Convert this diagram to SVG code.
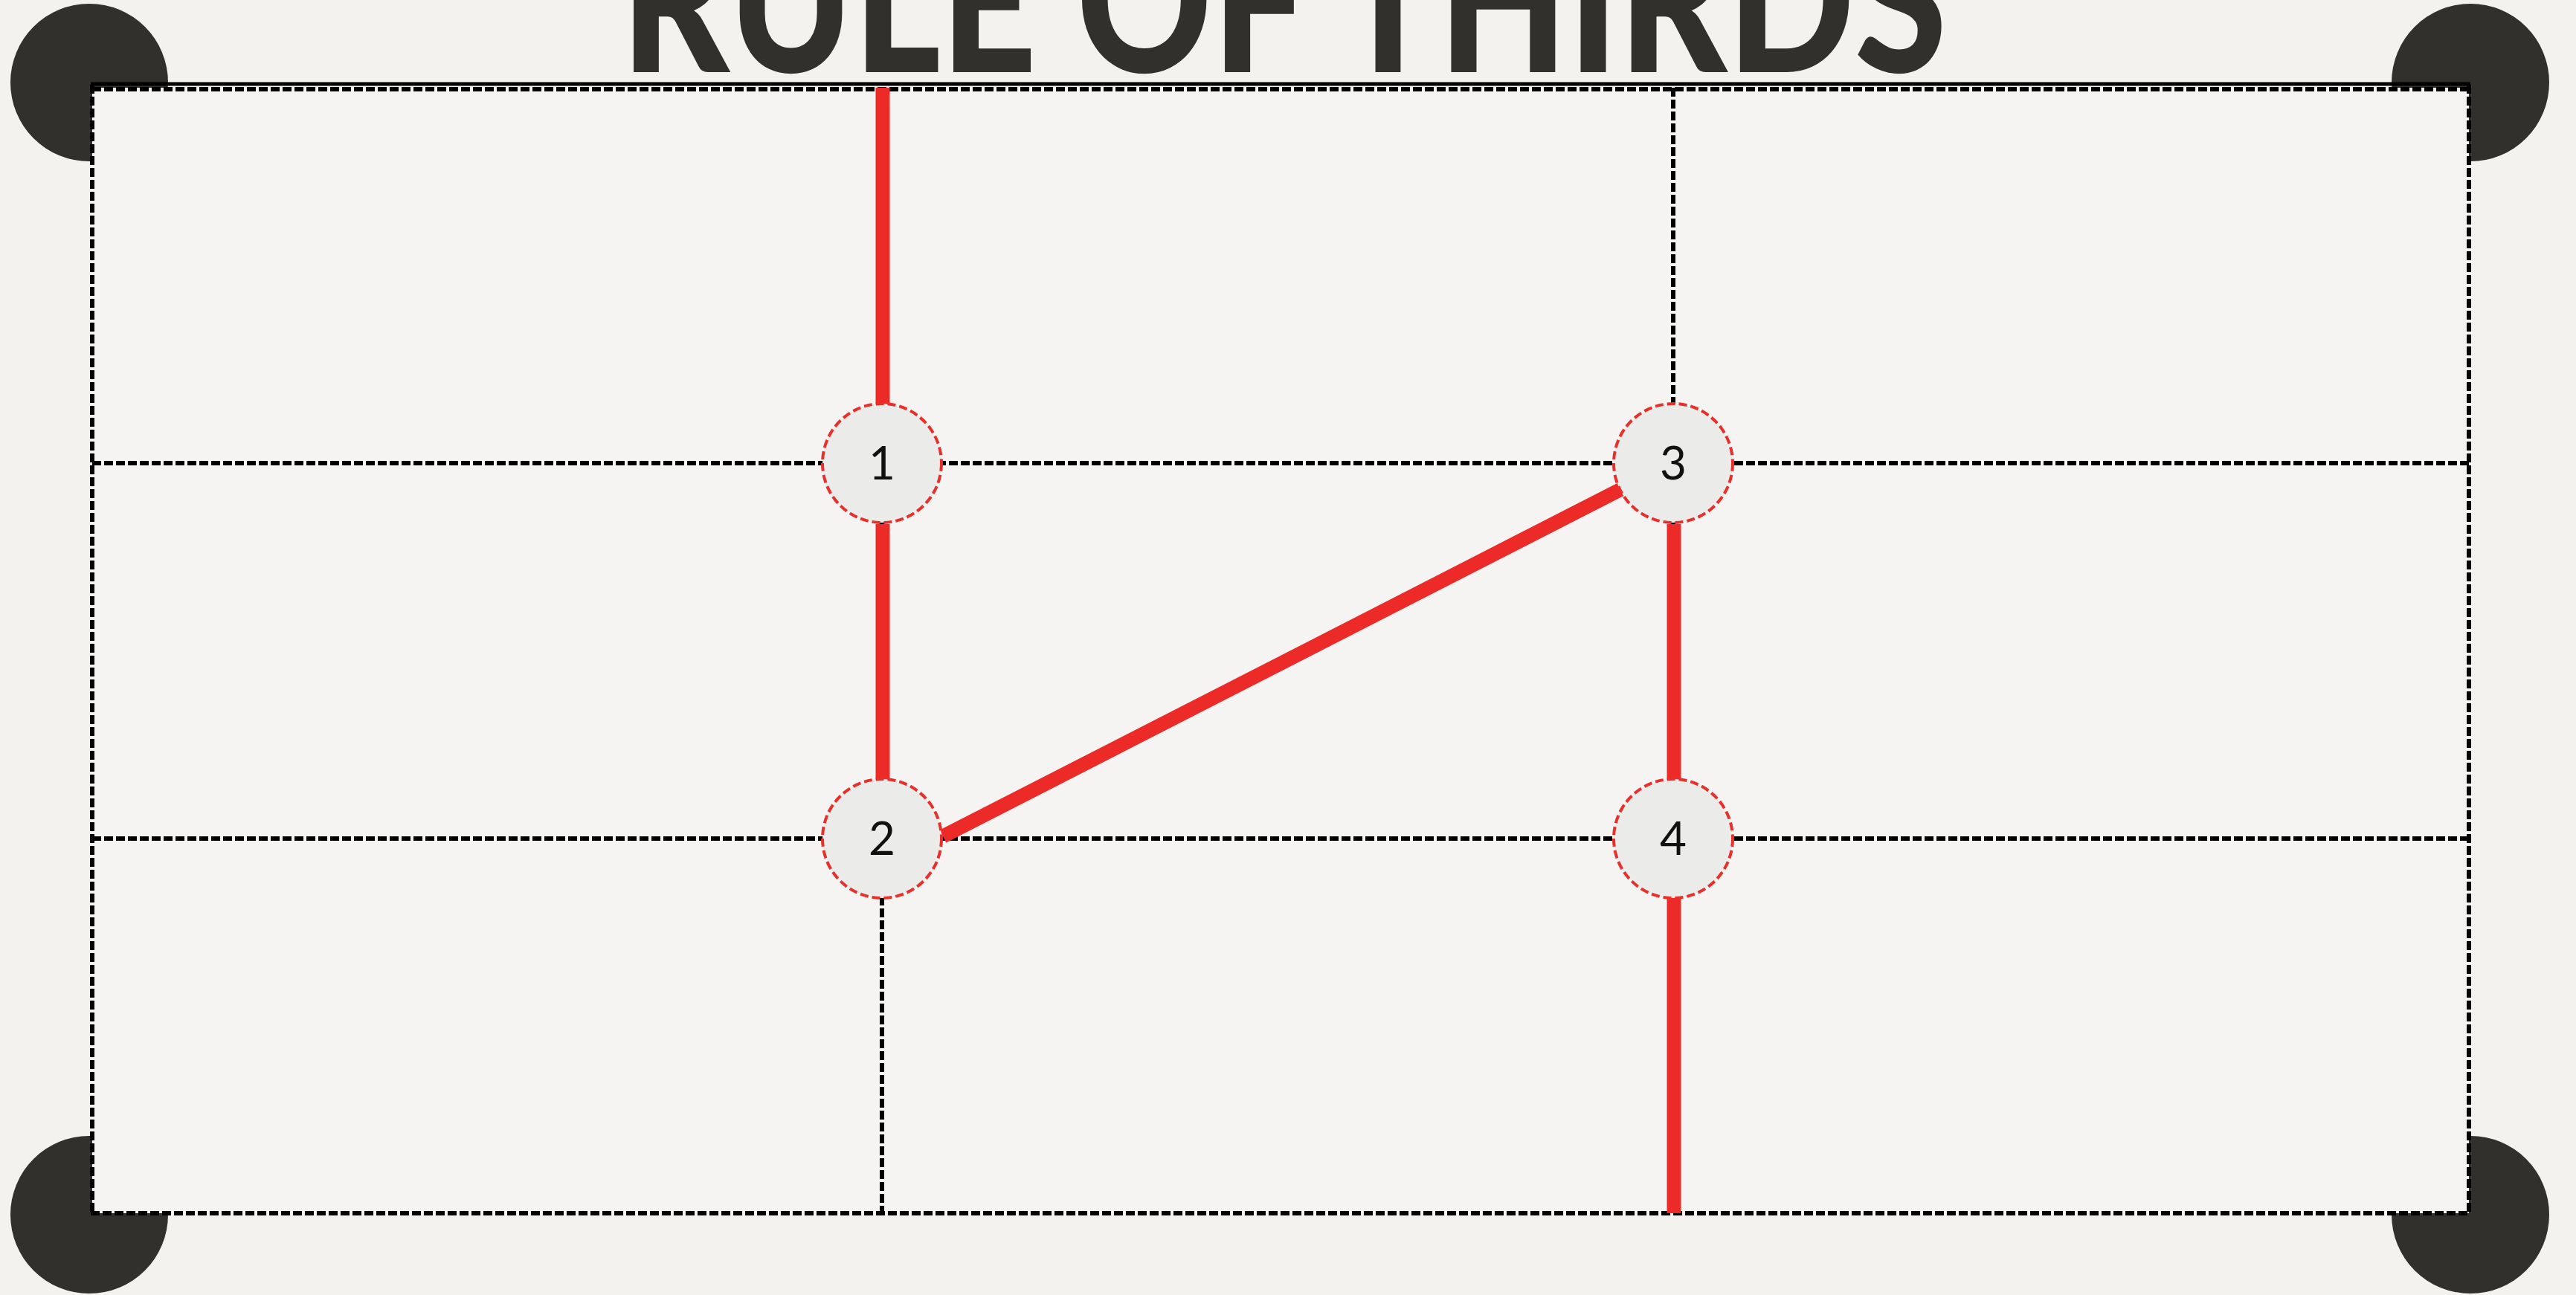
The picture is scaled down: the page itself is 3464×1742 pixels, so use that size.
<svg xmlns="http://www.w3.org/2000/svg" width="3464" height="1742" viewBox="0 0 3464 1742">
<style>
.corner{fill:#32302d}
.grid{stroke:#000;stroke-width:6;stroke-dasharray:12 4;fill:none}
.solid{stroke:#000;stroke-width:5;fill:none}
.red{stroke:#ec2a27;stroke-width:19;fill:none}
.node circle{fill:#ebebea;stroke:#e8302a;stroke-width:4;stroke-dasharray:11 5}
.node text{font-family:Lato,"Liberation Sans",sans-serif;font-size:62px;fill:#111;text-anchor:middle}
.title{font-family:Lato,"Open Sans",sans-serif;font-weight:900;font-size:270px;fill:#32302d}
</style>
<rect width="3464" height="1742" fill="#f3f2ef"/>
<g id="corners">
<circle class="corner" cx="120" cy="111" r="106"/>
<circle class="corner" cx="3322" cy="111" r="106"/>
<circle class="corner" cx="120" cy="1634" r="106"/>
<circle class="corner" cx="3322" cy="1634" r="106"/>
</g>
<rect x="124" y="118" width="3196" height="1514" fill="#f5f4f2"/>
<text class="title" x="835" y="97" textLength="1783" lengthAdjust="spacingAndGlyphs">RULE OF THIRDS</text>
<g id="grid">
<line class="solid" x1="122" y1="113" x2="3322" y2="113"/>
<line class="grid" x1="124" y1="120" x2="3320" y2="120"/>
<line class="grid" x1="124" y1="114" x2="124" y2="1634"/>
<line class="grid" x1="3320" y1="114" x2="3320" y2="1634"/>
<line class="grid" x1="122" y1="1632" x2="3322" y2="1632"/>
<line class="grid" x1="124" y1="623" x2="3320" y2="623"/>
<line class="grid" x1="124" y1="1128" x2="3320" y2="1128"/>
<line class="grid" x1="1186" y1="118" x2="1186" y2="1632"/>
<line class="grid" x1="2250" y1="118" x2="2250" y2="1632"/>
</g>
<g id="connectors">
<line class="red" x1="1187" y1="118" x2="1187" y2="545"/>
<line class="red" x1="1187" y1="705" x2="1187" y2="1050"/>
<line class="red" x1="1268" y1="1125" x2="2180" y2="658"/>
<line class="red" x1="2251" y1="705" x2="2251" y2="1050"/>
<line class="red" x1="2251" y1="1208" x2="2251" y2="1632"/>
</g>
<g id="node1" class="node"><circle cx="1186" cy="623" r="80"/><text x="1186" y="645">1</text></g>
<g id="node2" class="node"><circle cx="1186" cy="1128" r="80"/><text x="1186" y="1150">2</text></g>
<g id="node3" class="node"><circle cx="2250" cy="623" r="80"/><text x="2250" y="645">3</text></g>
<g id="node4" class="node"><circle cx="2250" cy="1128" r="80"/><text x="2250" y="1150">4</text></g>
</svg>
